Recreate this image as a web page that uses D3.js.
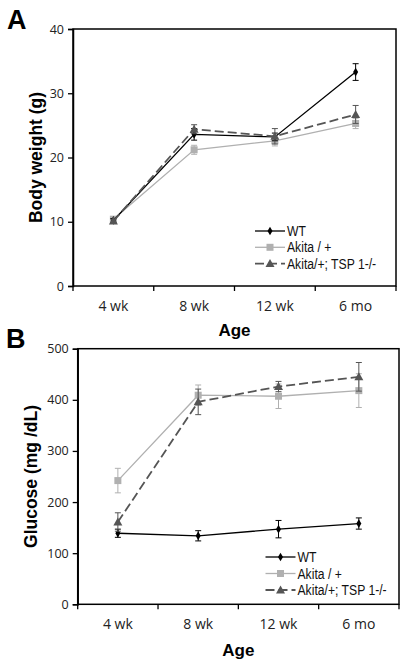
<!DOCTYPE html>
<html><head><meta charset="utf-8">
<script src="https://cdn.jsdelivr.net/npm/d3@7"></script>
<style>html,body{margin:0;padding:0;background:#fff;}svg{display:block;}</style>
</head><body>
<svg id="chart" width="407" height="668"></svg>
<script>
const ages = ["4 wk", "8 wk", "12 wk", "6 mo"];
const seriesNames = ["WT", "Akita / +", "Akita/+; TSP 1-/-"];

const wtWeight = [10.2, 23.6, 23.2, 33.3];
const wtWeightErr = [0.3, 0.9, 0.6, 1.3];
const akitaWeight = [10.4, 21.2, 22.6, 25.3];
const akitaWeightErr = [0.3, 0.7, 0.8, 0.8];
const tspWeight = [10.1, 24.4, 23.3, 26.7];
const tspWeightErr = [0.3, 0.7, 1.2, 1.4];
const weightTicks = [0, 10, 20, 30, 40];

const wtGlucose = [139, 134, 147, 158];
const wtGlucoseErr = [8, 10, 17, 11];
const akitaGlucose = [242, 409, 407, 418];
const akitaGlucoseErr = [24, 20, 24, 33];
const tspGlucose = [161, 396, 426, 445];
const tspGlucoseErr = [18, 25, 10, 28];
const glucoseTicks = [0, 100, 200, 300, 400, 500];

const styles = [
  {color: "#000000", dash: null, width: 1.3, marker: "diamond"},
  {color: "#b0b0b0", dash: null, width: 1.3, marker: "square"},
  {color: "#555555", dash: "9,4", width: 1.8, marker: "triangle"}
];

const svg = d3.select("#chart");
const tickFont = "'Open Sans', sans-serif";
const boldFont = "'Liberation Sans', Arial, sans-serif";

function panel(cfg) {
  const g = svg.append("g");
  const x = d3.scaleBand().domain(ages).range([cfg.x0, cfg.x1]).padding(0);
  const y = d3.scaleLinear().domain([0, cfg.ymax]).range([cfg.y0, cfg.y1]);
  const cx = a => x(a) + x.bandwidth() / 2;

  g.append("rect").attr("x", cfg.x0).attr("y", cfg.y1)
    .attr("width", cfg.x1 - cfg.x0).attr("height", cfg.y0 - cfg.y1)
    .attr("fill", "none").attr("stroke", "#000").attr("stroke-width", 1.5);

  const ya = g.append("g").attr("transform", `translate(${cfg.x0},0)`)
    .call(d3.axisLeft(y).tickValues(cfg.ticks).tickSize(5).tickPadding(4));
  ya.select(".domain").attr("stroke-width", 1.5);
  ya.selectAll(".tick line").attr("stroke-width", 1.3);
  ya.selectAll("text").attr("font-family", tickFont).attr("font-size", 12.5).attr("fill", "#222");

  const xa = g.append("g").attr("transform", `translate(0,${cfg.y0})`);
  const bounds = ages.map(a => x(a)).concat([cfg.x1]);
  xa.selectAll("line").data(bounds).join("line")
    .attr("x1", d => d).attr("x2", d => d).attr("y1", 0).attr("y2", 5)
    .attr("stroke", "#000").attr("stroke-width", 1.3);
  xa.selectAll("text").data(ages).join("text")
    .attr("x", d => cx(d)).attr("y", 24.5)
    .attr("text-anchor", "middle")
    .attr("font-family", tickFont).attr("font-size", 14).attr("fill", "#222")
    .text(d => d);

  g.append("text").attr("x", (cfg.x0 + cfg.x1) / 2).attr("y", cfg.ageY)
    .attr("text-anchor", "middle").attr("font-family", boldFont)
    .attr("font-weight", "bold").attr("font-size", 17).text("Age");
  g.append("text")
    .attr("transform", `translate(${cfg.ytX},${(cfg.y0 + cfg.y1) / 2}) rotate(-90)`)
    .attr("text-anchor", "middle").attr("dy", "0.35em").attr("font-family", boldFont)
    .attr("font-weight", "bold").attr("font-size", 17.5).text(cfg.ytitle);
  g.append("text").attr("x", cfg.letterX).attr("y", cfg.letterY)
    .attr("font-family", boldFont).attr("font-weight", "bold").attr("font-size", 27)
    .text(cfg.letter);

  function marker(sel, type, color) {
    if (type === "diamond") sel.append("path").attr("d", d3.symbol(d3.symbolDiamond, 22)()).attr("fill", color);
    else if (type === "square") sel.append("rect").attr("x", -3.5).attr("y", -3.5).attr("width", 7).attr("height", 7).attr("fill", color);
    else sel.append("path").attr("d", "M0,-4.5L4.5,3.5L-4.5,3.5Z").attr("fill", color);
  }

  const order = [1, 0, 2];
  order.forEach(i => {
    const st = styles[i];
    const vals = cfg.data[i], errs = cfg.err[i];
    const pts = ages.map((a, k) => ({a, v: vals[k], e: errs[k]}));
    const sg = g.append("g");
    pts.forEach(p => {
      const px = cx(p.a);
      sg.append("line").attr("x1", px).attr("x2", px).attr("y1", y(p.v - p.e)).attr("y2", y(p.v + p.e))
        .attr("stroke", st.color).attr("stroke-width", 1);
      [p.v - p.e, p.v + p.e].forEach(v => sg.append("line")
        .attr("x1", px - 3).attr("x2", px + 3).attr("y1", y(v)).attr("y2", y(v))
        .attr("stroke", st.color).attr("stroke-width", 1));
    });
    sg.append("path").datum(pts)
      .attr("d", d3.line().x(p => cx(p.a)).y(p => y(p.v)))
      .attr("fill", "none").attr("stroke", st.color).attr("stroke-width", st.width)
      .attr("stroke-dasharray", st.dash);
    pts.forEach(p => {
      const m = sg.append("g").attr("transform", `translate(${cx(p.a)},${y(p.v)})`);
      marker(m, st.marker, st.color);
    });
  });

  const lg = g.append("g");
  seriesNames.forEach((name, i) => {
    const st = styles[i];
    const ly = cfg.legY + i * cfg.legStep;
    lg.append("line").attr("x1", cfg.legX).attr("x2", cfg.legX + 30).attr("y1", ly).attr("y2", ly)
      .attr("stroke", st.color).attr("stroke-width", st.width).attr("stroke-dasharray", st.dash);
    const m = lg.append("g").attr("transform", `translate(${cfg.legX + 15},${ly})`);
    marker(m, st.marker, st.color);
    lg.append("text")
      .attr("transform", `translate(${cfg.legX + 32},${ly}) scale(0.87,1)`)
      .attr("dy", "0.36em")
      .attr("font-family", boldFont).attr("font-size", 14)
      .attr("fill", "#111").text(name);
  });
}

panel({
  x0: 73, x1: 396, y0: 286, y1: 29, ymax: 40, ticks: weightTicks,
  data: [wtWeight, akitaWeight, tspWeight], err: [wtWeightErr, akitaWeightErr, tspWeightErr],
  ytitle: "Body weight (g)", ytX: 36, ageY: 336, letter: "A", letterX: 7, letterY: 29,
  legX: 255, legY: 231, legStep: 16.3
});
panel({
  x0: 77.7, x1: 399, y0: 604.3, y1: 348.7, ymax: 500, ticks: glucoseTicks,
  data: [wtGlucose, akitaGlucose, tspGlucose], err: [wtGlucoseErr, akitaGlucoseErr, tspGlucoseErr],
  ytitle: "Glucose (mg /dL)", ytX: 31, ageY: 656, letter: "B", letterX: 6, letterY: 348,
  legX: 265.5, legY: 557, legStep: 16.5
});
</script>
</body></html>
